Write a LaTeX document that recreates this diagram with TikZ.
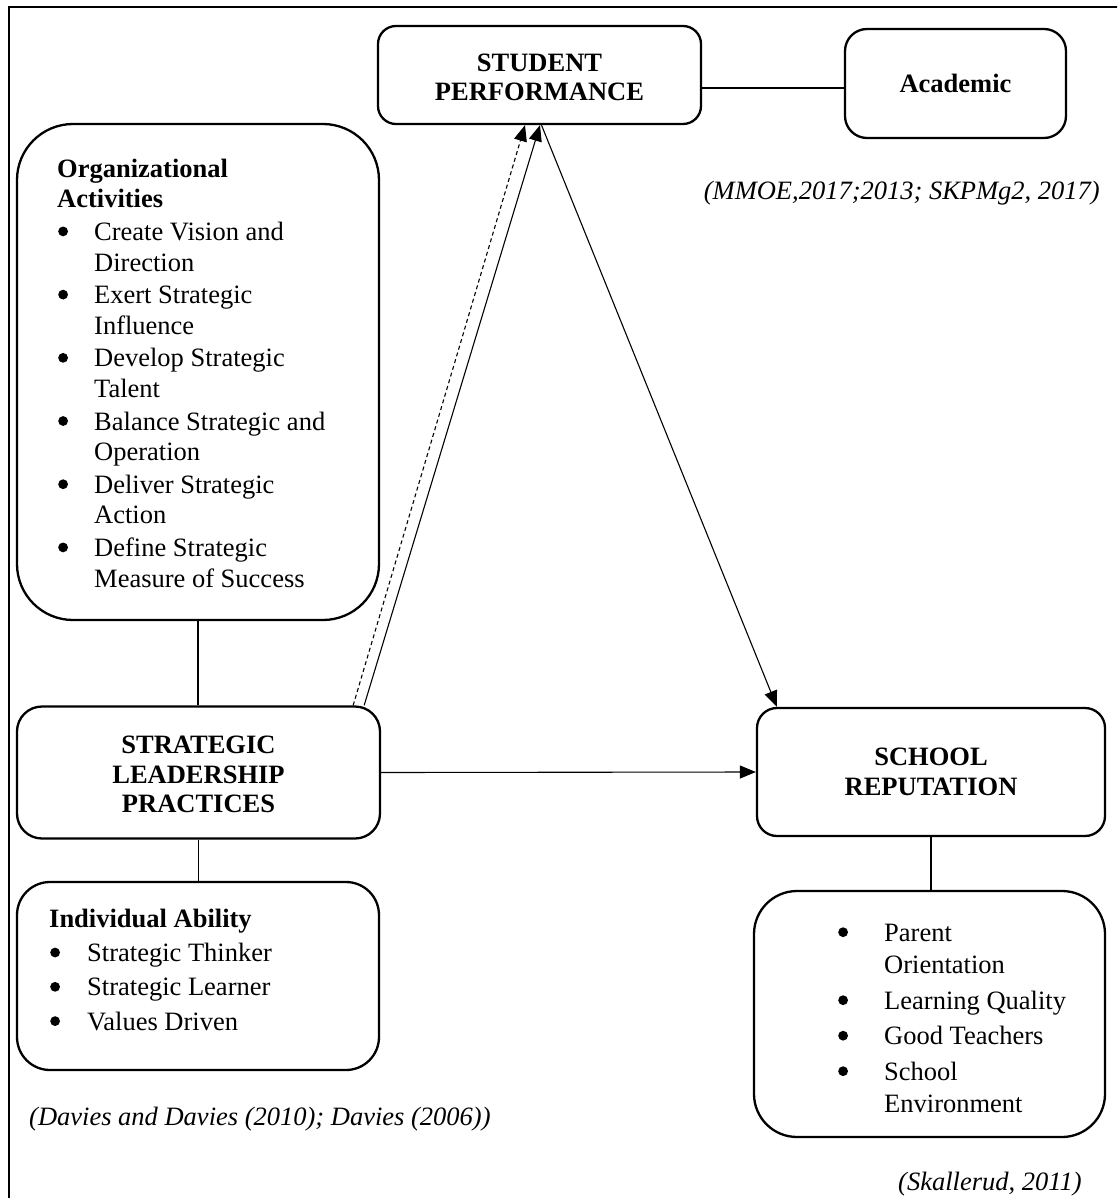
\documentclass[tikz,border=0pt]{standalone}
\usepackage{fontspec}
\setmainfont{Liberation Serif}
\usetikzlibrary{arrows.meta}
% round list bullet followed by a fixed indent
\newcommand{\blt}[1][37pt]{\makebox[#1][l]{\hspace*{1pt}\tikz[baseline=-9pt]\fill (4.9pt,0pt) circle[radius=4.9pt];}}
\begin{document}
\begin{tikzpicture}[x=1pt,y=-1pt,
  roundbox/.style={draw, line width=2.3pt, inner sep=0pt},
  titletext/.style={font=\fontsize{26.5}{29.5}\selectfont\bfseries, align=center},
  listtext/.style={align=left, anchor=north west, inner sep=0pt},
  citetext/.style={font=\fontsize{26.5}{30}\selectfont\itshape, inner sep=0pt},
  linkline/.style={line width=1.1pt},
  arrowline/.style={linkline, -{Triangle[length=16pt,width=13pt]}},
  dashline/.style={dash pattern=on 4pt off 3pt}]
\useasboundingbox (0,0) rectangle (1117,1198);
\clip (0,0) rectangle (1117,1198);

% outer frame
\draw[line width=2pt] (9,7) rectangle (1140,1220);

% main boxes
\node[roundbox, titletext, rounded corners=18pt, minimum width=323pt, minimum height=98pt]
  (sp) at (539.5,75) {\rule{0pt}{22.5pt}STUDENT\\PERFORMANCE};
\node[roundbox, titletext, rounded corners=22pt, minimum width=221pt, minimum height=109pt]
  (acad) at (955.5,83.5) {Academic};
\node[roundbox, rounded corners=56pt, minimum width=362pt, minimum height=496pt]
  (org) at (198,372) {};
\node[roundbox, titletext, rounded corners=25pt, minimum width=363pt, minimum height=132pt]
  (slp) at (198.5,772.5) {\rule{0pt}{21.5pt}STRATEGIC\\LEADERSHIP\\PRACTICES};
\node[roundbox, rounded corners=33pt, minimum width=362pt, minimum height=188pt]
  (ind) at (198,976) {};
\node[roundbox, titletext, rounded corners=20pt, minimum width=348pt, minimum height=128pt]
  (sr) at (931,772) {SCHOOL\\REPUTATION};
\node[roundbox, rounded corners=43pt, minimum width=351pt, minimum height=246pt]
  (rep) at (929.5,1014) {};

% box contents
\node[listtext, font=\fontsize{26.5}{30.6}\selectfont] (orgtext) at (57,155.6)
  {\strut\textbf{Organizational}\\
   \textbf{Activities}\\[2pt]
   \blt Create Vision and\\
   \hspace*{37pt}Direction\\[2pt]
   \blt Exert Strategic\\
   \hspace*{37pt}Influence\\[2pt]
   \blt Develop Strategic\\
   \hspace*{37pt}Talent\\[2pt]
   \blt Balance Strategic and\\
   \hspace*{37pt}Operation\\[2pt]
   \blt Deliver Strategic\\
   \hspace*{37pt}Action\\[2pt]
   \blt Define Strategic\\
   \hspace*{37pt}Measure of Success};

\node[listtext, font=\fontsize{26.5}{34.3}\selectfont] (indtext) at (49,903)
  {\strut\textbf{Individual Ability}\\
   \blt[38pt]Strategic Thinker\\
   \blt[38pt]Strategic Learner\\
   \blt[38pt]Values Driven};

\node[listtext, font=\fontsize{26.5}{32.5}\selectfont] (reptext) at (837,918.25)
  {\strut\blt[47pt]Parent\\
   \hspace*{47pt}Orientation\\[3pt]
   \blt[47pt]Learning Quality\\[3pt]
   \blt[47pt]Good Teachers\\[3pt]
   \blt[47pt]School\\
   \hspace*{47pt}Environment};

% sources
\node[citetext, anchor=base east] (citesp) at (1100,200) {(MMOE,2017;2013; SKPMg2, 2017)};
\node[citetext, anchor=base west] (citeslp) at (29,1125) {(Davies and Davies (2010); Davies (2006))};
\node[citetext, anchor=base west] (citesr) at (898,1190) {(Skallerud, 2011)};

% plain links
\draw[linkline] ([yshift=-13pt]sp.east) -- ([yshift=-13pt]sp.east -| acad.west);
\draw[linkline] (org.south) -- (org.south |- slp.north);
\draw[linkline] (slp.south) -- (slp.south |- ind.north);
\draw[linkline] (sr.south) -- (sr.south |- rep.north);

% arrows
\draw[arrowline] (slp.east) -- (sr.west);
\draw[arrowline, dashline] ([xshift=-28pt]slp.north east) -- ([xshift=-14.5pt]sp.south);
\draw[arrowline] ([xshift=-17pt]slp.north east) -- ([xshift=0.5pt]sp.south);
\draw[arrowline] ([xshift=2pt]sp.south) -- ([xshift=21pt]sr.north west);
\end{tikzpicture}
\end{document}
